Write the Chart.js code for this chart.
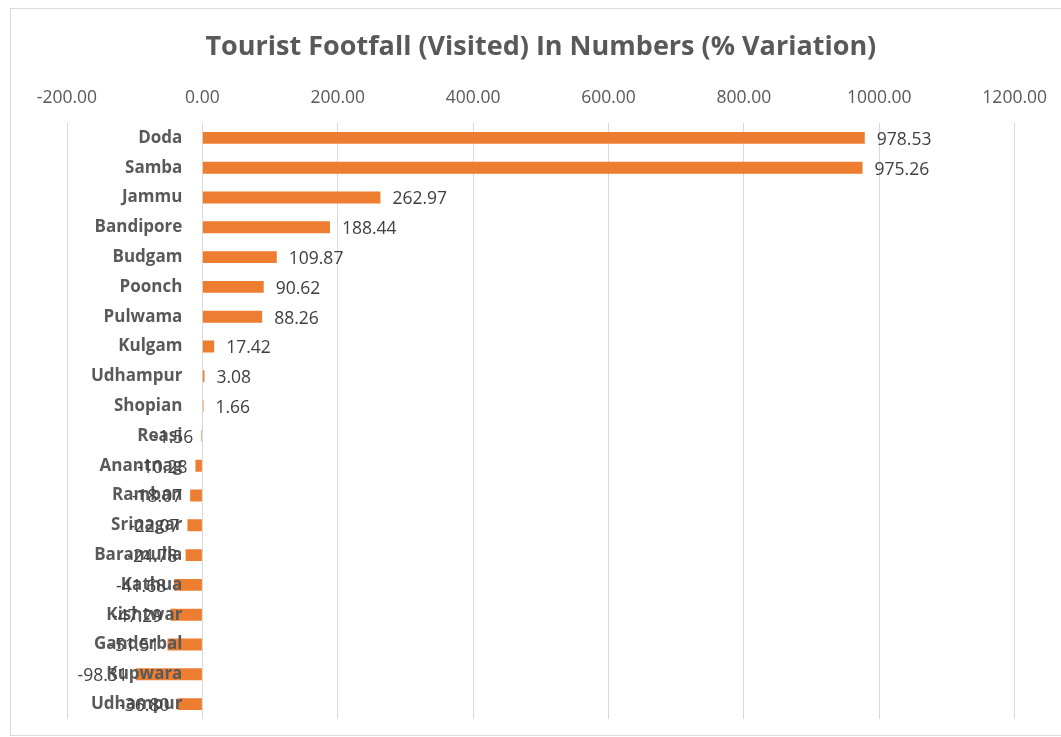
<!DOCTYPE html>
<html>
<head>
<meta charset="utf-8">
<script src="https://cdn.jsdelivr.net/npm/chart.js@4.4.1/dist/chart.umd.min.js"></script>
<style>
html,body{margin:0;padding:0;background:#fff;}
#wrap{width:1061px;height:737px;position:relative;}
</style>
</head>
<body>
<div id="wrap"><canvas id="c" width="1061" height="737"></canvas></div>
<script>
const titleText = "Tourist Footfall (Visited) In Numbers (% Variation)";
const districts = ["Doda","Samba","Jammu","Bandipore","Budgam","Poonch","Pulwama","Kulgam","Udhampur","Shopian","Reasi","Anantnag","Ramban","Srinagar","Baramulla","Kathua","Kishtwar","Ganderbal","Kupwara","Udhampur"];
const variation = [978.53,975.26,262.97,188.44,109.87,90.62,88.26,17.42,3.08,1.66,-1.56,-10.28,-18.07,-22.07,-24.78,-41.68,-47.29,-51.51,-98.31,-36.80];
const xMin = -200, xMax = 1200, xStep = 200;

const FONT = "'Open Sans', sans-serif";
const TXT = "#595959";

const overlay = {
  id: 'overlay',
  beforeDraw(chart) {
    const ctx = chart.ctx;
    ctx.save();
    ctx.fillStyle = '#fff';
    ctx.fillRect(0,0,chart.width,chart.height);
    ctx.strokeStyle = '#d9d9d9';
    ctx.lineWidth = 1;
    ctx.strokeRect(10.5, 8.5, 1080, 727);
    ctx.restore();
  },
  afterDatasetsDraw(chart) {
    const ctx = chart.ctx;
    const xs = chart.scales.x;
    const meta = chart.getDatasetMeta(0);
    const x0 = xs.getPixelForValue(0);
    ctx.save();
    // title
    ctx.fillStyle = TXT;
    ctx.font = "bold 27px " + FONT;
    ctx.textAlign = 'center';
    ctx.textBaseline = 'middle';
    ctx.fillText(titleText, (chart.chartArea.left + chart.chartArea.right)/2, 47);
    // category labels near zero axis
    ctx.font = "bold 17px " + FONT;
    ctx.textAlign = 'right';
    meta.data.forEach((bar, i) => {
      ctx.fillStyle = TXT;
      ctx.fillText(districts[i], x0 - 20, bar.y);
    });
    // value labels
    ctx.font = "17.5px " + FONT;
    ctx.fillStyle = '#404040';
    meta.data.forEach((bar, i) => {
      const v = variation[i];
      const xe = xs.getPixelForValue(v);
      if (v >= 0) { ctx.textAlign = 'left'; ctx.fillText(v.toFixed(2), xe + 12, bar.y + 2); }
      else { ctx.textAlign = 'right'; ctx.fillText(v.toFixed(2), xe - 8, bar.y + 2); }
    });
    ctx.restore();
  }
};

new Chart(document.getElementById('c'), {
  type: 'bar',
  data: {
    labels: districts,
    datasets: [{
      data: variation,
      backgroundColor: '#ED7D31',
      borderWidth: 0,
      categoryPercentage: 1.0,
      barPercentage: 0.4
    }]
  },
  options: {
    indexAxis: 'y',
    responsive: false,
    animation: false,
    devicePixelRatio: 1,
    layout: { padding: { left: 67, right: 45, top: 0, bottom: 18 } },
    plugins: { legend: { display: false }, title: { display: false }, tooltip: { enabled: false } },
    scales: {
      x: {
        position: 'top',
        min: xMin, max: xMax,
        afterFit(scale) { scale.height = 123; },
        afterBuildTicks(scale) {
          const t = [];
          for (let v = xMin; v <= xMax; v += xStep) t.push({ value: v });
          scale.ticks = t;
        },
        ticks: {
          callback: v => Number(v).toFixed(2),
          color: TXT,
          font: { family: FONT, size: 17.5 },
          padding: 14,
          maxRotation: 0
        },
        grid: { color: '#d9d9d9', drawTicks: false, lineWidth: 1 },
        border: { display: false }
      },
      y: {
        display: false,
        grid: { display: false }
      }
    }
  },
  plugins: [overlay]
});
</script>
</body>
</html>
